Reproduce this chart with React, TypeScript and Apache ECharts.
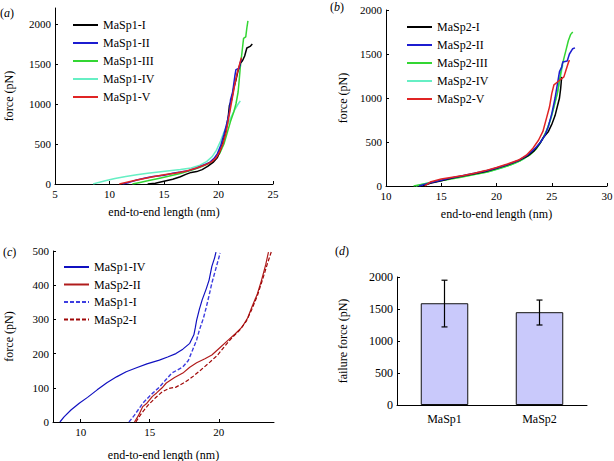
import React, { useEffect, useRef } from "react";
import * as echarts from "echarts";

// ---------- Panel (a): MaSp1 force-extension curves [length nm, force pN]
const a_MaSp1_I = [[13.5,0],[14.2,10],[15.0,35],[15.8,60],[16.5,90],[17.0,120],[17.5,145],[18.0,155],[18.5,180],[19.0,220],[19.5,270],[19.9,330],[20.1,400],[20.4,520],[20.7,680],[20.9,850],[21.0,980],[21.2,1050],[21.4,1200],[21.6,1300],[21.8,1420],[22.0,1510],[22.2,1540],[22.4,1600],[22.6,1700],[22.9,1720],[23.1,1750]];
const a_MaSp1_II = [[11.2,0],[11.8,20],[12.5,50],[13.3,75],[14.0,95],[15.0,110],[15.8,135],[16.5,150],[17.3,170],[18.0,200],[18.6,235],[19.2,270],[19.6,320],[19.9,380],[20.2,480],[20.5,620],[20.8,780],[21.0,900],[21.1,1050],[21.3,1150],[21.5,1350],[21.6,1430],[21.8,1440],[21.9,1440],[22.0,1520],[22.1,1560]];
const a_MaSp1_III = [[12.1,0],[12.8,20],[13.5,40],[14.5,70],[15.5,100],[16.5,130],[17.5,170],[18.3,210],[19.0,250],[19.6,300],[20.1,380],[20.5,500],[20.8,640],[21.1,780],[21.4,900],[21.6,1000],[21.8,1150],[21.9,1300],[22.0,1460],[22.1,1580],[22.2,1700],[22.3,1820],[22.5,1840],[22.6,1950],[22.7,2040]];
const a_MaSp1_IV = [[8.5,0],[9.0,20],[9.7,45],[10.5,70],[11.5,95],[12.5,115],[13.5,135],[14.5,150],[15.5,165],[16.5,180],[17.5,200],[18.3,235],[18.9,280],[19.4,340],[19.8,420],[20.2,540],[20.5,650],[20.9,760],[21.2,850],[21.5,930],[21.8,1000],[22.0,1040]];
const a_MaSp1_V = [[10.9,0],[11.5,20],[12.3,45],[13.2,70],[14.0,90],[15.0,115],[16.0,135],[17.0,160],[18.0,200],[18.8,240],[19.4,280],[19.8,330],[20.1,400],[20.4,500],[20.7,650],[20.9,800],[21.1,950],[21.3,1100],[21.5,1250],[21.7,1380],[21.9,1480],[22.1,1580]];

// ---------- Panel (b): MaSp2 force-extension curves
const b_MaSp2_I = [[13.3,0],[14.0,30],[15.0,60],[16.0,90],[17.0,115],[18.0,140],[19.0,165],[20.0,200],[21.0,240],[22.0,290],[22.8,340],[23.4,400],[23.9,480],[24.3,560],[24.7,620],[25.0,700],[25.3,800],[25.5,900],[25.7,1000],[25.8,1100],[25.9,1240]];
const b_MaSp2_II = [[13.0,0],[13.8,30],[14.8,60],[16.0,95],[17.0,120],[18.0,145],[19.0,170],[20.0,205],[21.0,245],[22.0,290],[22.8,350],[23.5,430],[24.0,500],[24.4,580],[24.7,680],[25.0,820],[25.3,1000],[25.5,1150],[25.7,1300],[25.9,1350],[26.0,1410],[26.4,1420],[26.6,1500],[26.9,1560],[27.1,1570]];
const b_MaSp2_III = [[12.5,0],[13.3,20],[14.3,45],[15.5,70],[16.8,100],[18.0,130],[19.2,160],[20.3,200],[21.3,240],[22.2,290],[23.0,350],[23.6,420],[24.1,520],[24.5,620],[24.9,760],[25.2,900],[25.5,1050],[25.7,1200],[25.9,1350],[26.1,1450],[26.3,1550],[26.5,1650],[26.7,1720],[26.9,1750]];
const b_MaSp2_IV = [[12.7,0],[13.5,25],[14.5,50],[15.7,80],[17.0,110],[18.3,140],[19.5,170],[20.6,210],[21.6,255],[22.5,310],[23.2,380],[23.8,460],[24.3,560],[24.7,680],[25.0,800],[25.3,950],[25.6,1100],[25.8,1250],[26.0,1380]];
const b_MaSp2_V = [[13.5,0],[14.0,45],[15.0,80],[16.0,100],[17.0,120],[18.0,145],[19.0,175],[20.0,210],[21.0,250],[22.0,295],[22.7,350],[23.3,430],[23.8,520],[24.2,620],[24.5,760],[24.8,900],[25.0,1050],[25.2,1150],[25.6,1190],[26.1,1240],[26.3,1320],[26.5,1400],[26.6,1430]];

// ---------- Panel (c): low-force comparison
const c_MaSp1_IV = [[8.5,0],[8.8,15],[9.3,35],[9.9,55],[10.5,72],[11.2,94],[11.9,115],[12.6,132],[13.3,147],[14.0,158],[14.8,170],[15.7,181],[16.3,190],[16.9,200],[17.4,213],[17.9,230],[18.2,255],[18.3,275],[18.4,298],[18.6,330],[18.8,357],[19.1,390],[19.3,415],[19.5,455],[19.7,480],[19.8,497]];
const c_MaSp2_II = [[13.9,0],[14.2,20],[14.5,45],[14.8,55],[15.2,75],[15.5,85],[15.9,100],[16.2,114],[16.8,130],[17.4,143],[17.9,160],[18.4,173],[19.0,185],[19.5,196],[20.1,218],[20.7,240],[21.2,258],[21.7,278],[22.1,305],[22.4,336],[22.8,375],[23.1,415],[23.4,460],[23.6,497]];
const c_MaSp1_I = [[13.5,0],[13.9,20],[14.5,55],[15.1,80],[15.7,102],[16.2,125],[16.6,143],[17.0,152],[17.4,161],[17.8,180],[18.1,210],[18.4,240],[18.6,269],[18.9,305],[19.1,336],[19.3,370],[19.5,406],[19.8,450],[20.1,494]];
const c_MaSp2_I = [[14.0,0],[14.4,25],[14.9,50],[15.4,70],[15.9,88],[16.4,98],[16.9,102],[17.5,115],[18.1,132],[18.7,152],[19.3,173],[19.9,195],[20.5,225],[21.0,248],[21.5,268],[22.0,295],[22.4,330],[22.8,370],[23.2,420],[23.5,460],[23.8,497]];

// ---------- Panel (d): failure force
const d_categories = ["MaSp1", "MaSp2"];
const d_means = [1590, 1450];
const d_errLow = [1220, 1250];
const d_errHigh = [1950, 1640];

const yTicksAB = [0, 500, 1000, 1500, 2000];
const xTicksC = [10, 15, 20];

const FONT = "Liberation Serif";

export default function App() {
  const ref = useRef<HTMLDivElement>(null);
  useEffect(() => {
    if (!ref.current) return;
    const chart = echarts.init(ref.current, null, { renderer: "svg" });

    const plain = (v: number) => String(v);
    const axisCommon = (fs: number) => ({
      axisLine: { show: true, lineStyle: { color: "#000", width: 1 } },
      axisTick: { show: true, inside: true, length: 3, lineStyle: { color: "#000" } },
      axisLabel: { color: "#000", fontFamily: FONT, fontSize: fs, margin: 4, formatter: plain },
      splitLine: { show: false },
      nameTextStyle: { color: "#000", fontFamily: FONT, fontSize: 12 },
      nameLocation: "middle" as const,
    });

    const line = (name: string, data: number[][], color: string, xi: number, width = 1.5, dashed = false) => ({
      type: "line",
      name,
      data,
      xAxisIndex: xi,
      yAxisIndex: xi,
      symbol: "none",
      showSymbol: false,
      smooth: false,
      lineStyle: { color, width, type: dashed ? [4, 2] : "solid" },
      itemStyle: { color },
      z: 2,
    });

    const legendCommon = {
      orient: "vertical" as const,
      padding: 0,
      itemWidth: 25,
      itemHeight: 14,
      itemGap: 6,
      itemStyle: { opacity: 0 },
      textStyle: { color: "#000", fontFamily: FONT, fontSize: 12 },
      formatter: (n: string) => n.replace(/^[abc]:/, ""),
      selectedMode: false,
    };

    const option: any = {
      animation: false,
      backgroundColor: "#fff",
      grid: [
        { left: 55, top: 8, width: 218, height: 176, outerBoundsMode: "none" },
        { left: 386, top: 10, width: 221, height: 176, outerBoundsMode: "none" },
        { left: 53, top: 251, width: 221, height: 171, outerBoundsMode: "none" },
        { left: 397, top: 277, width: 190, height: 128, outerBoundsMode: "none" },
      ],
      xAxis: [
        { ...axisCommon(11), gridIndex: 0, type: "value", min: 5, max: 25, interval: 5, name: "end-to-end length (nm)", nameGap: 22 },
        { ...axisCommon(11), gridIndex: 1, type: "value", min: 10, max: 30, interval: 5, name: "end-to-end length (nm)", nameGap: 22 },
        {
          ...axisCommon(11), gridIndex: 2, type: "value", min: 8, max: 24, name: "end-to-end length (nm)", nameGap: 27,
          axisLabel: { ...axisCommon(11).axisLabel, customValues: xTicksC },
          axisTick: { ...axisCommon(11).axisTick, customValues: xTicksC },
        },
        {
          ...axisCommon(12), gridIndex: 3, type: "category", data: d_categories, boundaryGap: true,
          axisTick: { show: false },
          axisLabel: { color: "#000", fontFamily: FONT, fontSize: 12, margin: 8 },
        },
      ],
      yAxis: [
        {
          ...axisCommon(11), gridIndex: 0, type: "value", min: 0, max: 2200, interval: 500, name: "force (pN)", nameGap: 40,
          axisLabel: { ...axisCommon(11).axisLabel, customValues: yTicksAB },
          axisTick: { ...axisCommon(11).axisTick, customValues: yTicksAB },
        },
        { ...axisCommon(11), gridIndex: 1, type: "value", min: 0, max: 2000, interval: 500, name: "force (pN)", nameGap: 37 },
        { ...axisCommon(11), gridIndex: 2, type: "value", min: 0, max: 500, interval: 100, name: "force (pN)", nameGap: 38 },
        { ...axisCommon(12), gridIndex: 3, type: "value", min: 0, max: 2000, interval: 500, name: "failure force (pN)", nameGap: 48 },
      ],
      legend: [
        { ...legendCommon, left: 72, top: 19, data: ["a:MaSp1-I", "a:MaSp1-II", "a:MaSp1-III", "a:MaSp1-IV", "a:MaSp1-V"] },
        { ...legendCommon, left: 406, top: 21, data: ["b:MaSp2-I", "b:MaSp2-II", "b:MaSp2-III", "b:MaSp2-IV", "b:MaSp2-V"] },
        { ...legendCommon, left: 63, top: 261, itemGap: 5.5, data: ["c:MaSp1-IV", "c:MaSp2-II", "c:MaSp1-I", "c:MaSp2-I"] },
      ],
      series: [
        line("a:MaSp1-IV", a_MaSp1_IV, "#66efc4", 0),
        line("a:MaSp1-III", a_MaSp1_III, "#33d633", 0),
        line("a:MaSp1-I", a_MaSp1_I, "#000000", 0),
        line("a:MaSp1-II", a_MaSp1_II, "#1c1cd0", 0),
        line("a:MaSp1-V", a_MaSp1_V, "#e02424", 0),

        line("b:MaSp2-IV", b_MaSp2_IV, "#66efc4", 1),
        line("b:MaSp2-III", b_MaSp2_III, "#33d633", 1),
        line("b:MaSp2-I", b_MaSp2_I, "#000000", 1),
        line("b:MaSp2-II", b_MaSp2_II, "#1c1cd0", 1),
        line("b:MaSp2-V", b_MaSp2_V, "#e02424", 1),

        line("c:MaSp1-IV", c_MaSp1_IV, "#1010c0", 2, 1.2),
        line("c:MaSp2-II", c_MaSp2_II, "#b01c1c", 2, 1.2),
        line("c:MaSp1-I", c_MaSp1_I, "#3d3de0", 2, 1.4, true),
        line("c:MaSp2-I", c_MaSp2_I, "#a00808", 2, 1.2, true),

        {
          type: "bar",
          name: "failure",
          xAxisIndex: 3,
          yAxisIndex: 3,
          data: d_means,
          barWidth: "50%",
          itemStyle: { color: "#c9c9fb", borderColor: "#111", borderWidth: 1 },
        },
        {
          type: "custom",
          name: "error",
          xAxisIndex: 3,
          yAxisIndex: 3,
          data: d_categories.map((_, i) => [i, d_errLow[i], d_errHigh[i]]),
          z: 5,
          renderItem: (params: any, api: any) => {
            const lo = api.coord([api.value(0), api.value(1)]);
            const hi = api.coord([api.value(0), api.value(2)]);
            const cap = 3;
            const st = { stroke: "#000", lineWidth: 1.2 };
            return {
              type: "group",
              children: [
                { type: "line", shape: { x1: lo[0], y1: lo[1], x2: hi[0], y2: hi[1] }, style: st },
                { type: "line", shape: { x1: lo[0] - cap, y1: lo[1], x2: lo[0] + cap, y2: lo[1] }, style: st },
                { type: "line", shape: { x1: hi[0] - cap, y1: hi[1], x2: hi[0] + cap, y2: hi[1] }, style: st },
              ],
            };
          },
        },
      ],
      graphic: [
        ["a", 0, 7],
        ["b", 330, 1],
        ["c", 3, 246],
        ["d", 335, 245],
      ].map(([l, x, y]) => ({
        type: "text",
        left: x,
        top: y,
        style: {
          text: `{p|(}{i|${l}}{p|)}`,
          rich: {
            p: { fontFamily: FONT, fontSize: 12, fill: "#000" },
            i: { fontFamily: FONT, fontSize: 12, fontStyle: "italic", fill: "#000" },
          },
        },
      })),
    };

    chart.setOption(option);
    return () => chart.dispose();
  }, []);

  return (
    <div
      ref={ref}
      style={{ position: "fixed", left: 0, top: 0, width: 614, height: 461, background: "#fff" }}
    />
  );
}
